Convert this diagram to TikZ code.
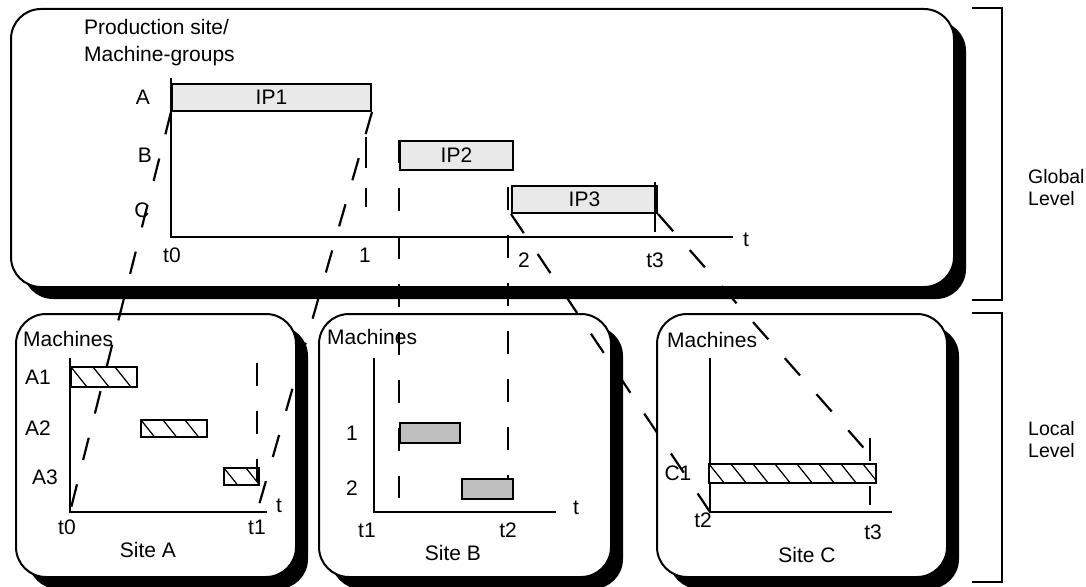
\documentclass[tikz,border=0pt]{standalone}
\usepackage{fontspec}
\setmainfont{Liberation Sans}
\usetikzlibrary{shadows}

\begin{document}
\begin{tikzpicture}[x=1pt, y=-1pt, font=\fontsize{21}{27}\selectfont,
    panel/.style={draw, line width=2, fill=white, rounded corners=30, inner sep=0,
        anchor=north west, general shadow={fill=black, shadow xshift=12pt, shadow yshift=-12pt}},
    ipbar/.style={draw, line width=2, fill=gray!17, inner sep=0, minimum height=27, anchor=north west},
    jobbar/.style={draw, line width=2, fill=gray!50, inner sep=0, minimum height=20, anchor=north west},
    hatchbar/.style={draw, line width=2, fill=white, inner sep=0, anchor=north west,
        path picture={\foreach \k in {-1,...,8}
            \draw[line width=1.2] ([xshift=\k*22pt]path picture bounding box.north west) -- ++(16,20);}},
    axis/.style={line width=2},
    levtext/.style={anchor=west, align=left, inner sep=0, font=\fontsize{19.5}{22}\selectfont},
    dashln/.style={line width=2.2, dash pattern=on 23pt off 25pt}]
    \useasboundingbox (0,0) rectangle (1086,586);

    % global level
    \node[panel, minimum width=943, minimum height=278] (glob) at (10,8) {};
    \node[anchor=north west, align=left, inner sep=0] (gtitle) at (84,19) {Production site/\\Machine-groups};
    \coordinate (g0) at (171,237);
    \draw[axis] (171,78) -- (g0) -- (733,237);
    \node[ipbar, minimum width=199] (ip1) at (171,83) {IP1};
    \node[ipbar, minimum width=113, minimum height=29] (ip2) at (399,140) {IP2};
    \node[ipbar, minimum width=145] (ip3) at (511,185) {IP3};
    \node (ga) at (143,97) {A};
    \node (gb) at (145,155) {B};
    \node (gc) at (142,210) {C};
    \node (gt0) at (172,255) {t0};
    \node (gt1) at (365,255) {1};
    \node (gt2) at (524,260) {2};
    \node (gt3) at (655,260) {t3};
    \node (gt) at (746,240) {t};

    % site A
    \node[panel, minimum width=280, minimum height=263] (sitea) at (15,313) {};
    \node[anchor=west, inner sep=0] (ma) at (23,339) {Machines};
    \coordinate (a0) at (70,512);
    \coordinate (a1t) at (257,512);
    \draw[axis] (70,358) -- (a0) -- (267,512);
    \node[hatchbar, minimum width=66, minimum height=20] (a1) at (70,366) {};
    \node[hatchbar, minimum width=66, minimum height=17] (a2) at (140,419) {};
    \node[hatchbar, minimum width=35, minimum height=17] (a3) at (223,467) {};
    \node (la1) at (38,377) {A1};
    \node (la2) at (38,428) {A2};
    \node (la3) at (45,477) {A3};
    \node (at0) at (67,527) {t0};
    \node (at1) at (257,527) {t1};
    \node (at) at (279,506) {t};
    \node (sa) at (148,550) {Site A};

    % site B
    \node[panel, minimum width=292, minimum height=263] (siteb) at (318,313) {};
    \node[anchor=west, inner sep=0] (mb) at (327,337) {Machines};
    \coordinate (b0) at (374,512);
    \draw[axis] (374,358) -- (b0) -- (556,512);
    \node[jobbar, minimum width=60] (b1) at (399,422) {};
    \node[jobbar, minimum width=51] (b2) at (461,478) {};
    \node (lb1) at (352,433) {1};
    \node (lb2) at (352,488) {2};
    \node (bt1) at (367,530) {t1};
    \node (bt2) at (508,530) {t2};
    \node (bt) at (576,508) {t};
    \node (sb) at (453,553) {Site B};

    % site C
    \node[panel, minimum width=290, minimum height=263] (sitec) at (656,313) {};
    \node[anchor=west, inner sep=0] (mc) at (667,340) {Machines};
    \coordinate (c0) at (710,512);
    \draw[axis] (710,358) -- (c0) -- (892,512);
    \node[hatchbar, minimum width=167, minimum height=19] (c1) at (708,463) {};
    \node (lc1) at (678,473) {C1};
    \node (ct2) at (703,520) {t2};
    \node (ct3) at (873,532) {t3};
    \node (sc) at (807,555) {Site C};

    % levels
    \draw[line width=1.5] (972,8) -- (1002,8) -- (1002,300) -- (972,300);
    \draw[line width=1.5] (972,313) -- (1002,313) -- (1002,582) -- (972,582);
    \node[levtext] (glev) at (1028,188) {Global\\Level};
    \node[levtext] (llev) at (1028,440) {Local\\Level};

    % projections
    \draw[dashln] (ip1.south west) -- (a0);
    \draw[dashln] (ip1.south east) -- (a1t);
    \draw[dashln] (ip3.south west) -- (c0);
    \draw[dashln] (ip3.south east) -- (c1.north east);
    \draw[dashln] (ip2.north west) -- (399,498);
    \draw[dashln] (508,187) -- (508,480);
    \draw[dashln, dash pattern=on 31pt off 20pt] (366,137) -- (366,207);
    \draw[dashln, dash pattern=on 50pt off 20pt] (655,182) -- (655,233);
    \draw[dashln] (257,363) -- (257,486);
    \draw[dashln] (870,438) -- (870,505);
\end{tikzpicture}
\end{document}
